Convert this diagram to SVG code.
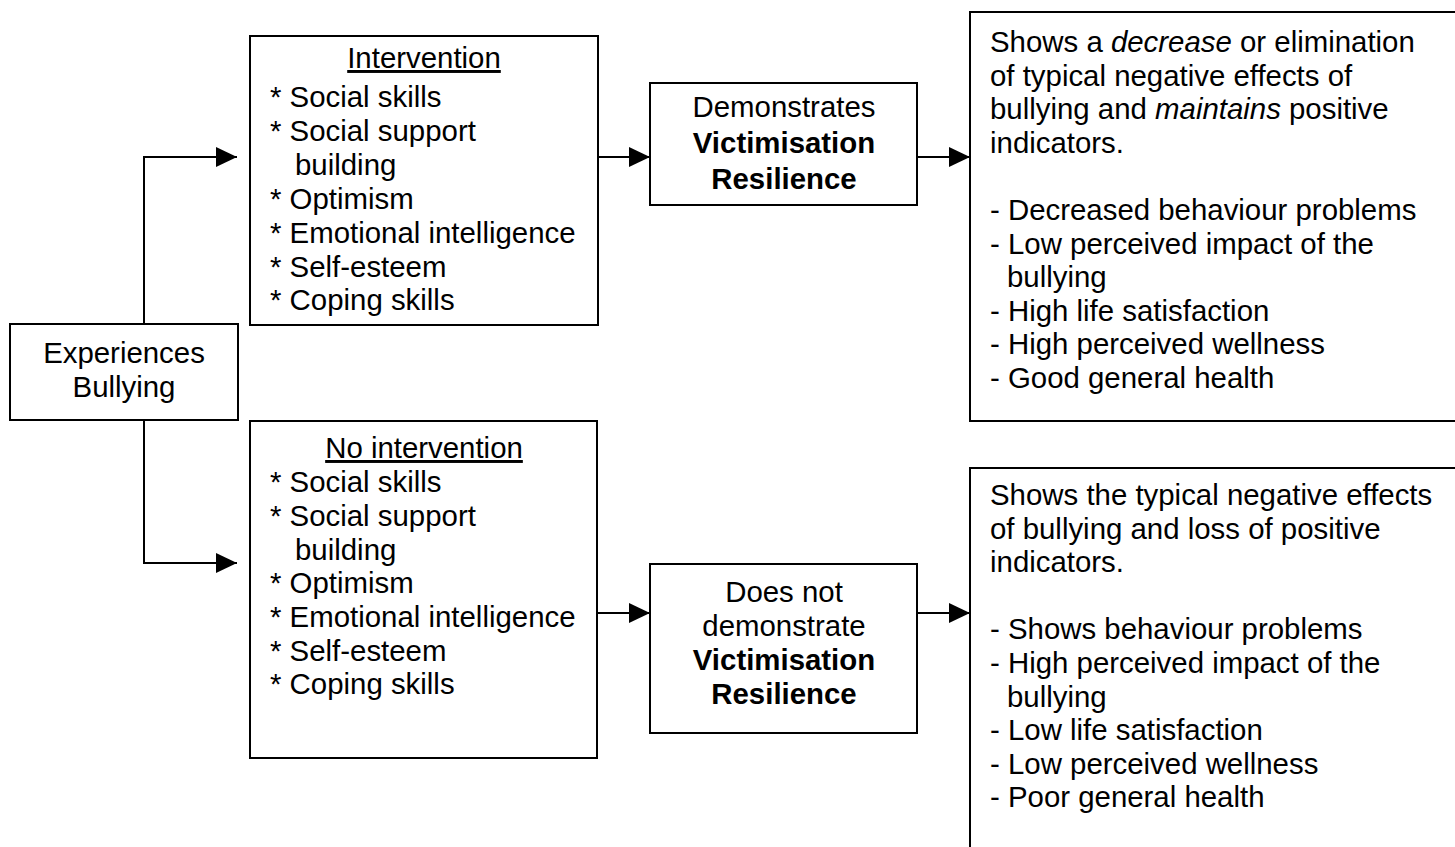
<svg xmlns="http://www.w3.org/2000/svg" width="1455" height="847" viewBox="0 0 1455 847">
<defs>
<style>
.box{fill:#fff;stroke:#000;stroke-width:2}
.t{font-family:"Liberation Sans",Arial,sans-serif;font-size:29.4px;fill:#000}
.c{text-anchor:middle}
.b{font-weight:bold}
.i{font-style:italic}
.u{text-decoration:underline}
.ln{fill:none;stroke:#000;stroke-width:2}
</style>
<marker id="ah" markerUnits="userSpaceOnUse" markerWidth="22" markerHeight="22" refX="21" refY="10" orient="auto">
<path d="M0,0 L21,10 L0,20 z" fill="#000"/>
</marker>
</defs>
<rect width="1455" height="847" fill="#fff"/>
<g id="connectors">
<path class="ln" d="M144,324 V157 H237" marker-end="url(#ah)"/>
<path class="ln" d="M144,420 V563 H237" marker-end="url(#ah)"/>
<path class="ln" d="M598,157 H650" marker-end="url(#ah)"/>
<path class="ln" d="M917,157 H970" marker-end="url(#ah)"/>
<path class="ln" d="M597,613 H650" marker-end="url(#ah)"/>
<path class="ln" d="M917,613 H970" marker-end="url(#ah)"/>
</g>
<g id="experiences">
<rect class="box" x="10" y="324" width="228" height="96"/>
<text class="t c" x="124" y="363">Experiences</text>
<text class="t c" x="124" y="397">Bullying</text>
</g>
<g id="intervention">
<rect class="box" x="250" y="36" width="348" height="289"/>
<text class="t c u" x="424" y="68">Intervention</text>
<text class="t" x="270" y="107">* Social skills</text>
<text class="t" x="270" y="141">* Social support</text>
<text class="t" x="295" y="175">building</text>
<text class="t" x="270" y="209">* Optimism</text>
<text class="t" x="270" y="243">* Emotional intelligence</text>
<text class="t" x="270" y="277">* Self-esteem</text>
<text class="t" x="270" y="310">* Coping skills</text>
</g>
<g id="demonstrates">
<rect class="box" x="650" y="83" width="267" height="122"/>
<text class="t c" x="784" y="117">Demonstrates</text>
<text class="t c b" x="784" y="153">Victimisation</text>
<text class="t c b" x="784" y="189">Resilience</text>
</g>
<g id="positive-outcome">
<rect class="box" x="970" y="12" width="500" height="409"/>
<text class="t" x="990" y="52">Shows a <tspan class="i">decrease</tspan> or elimination</text>
<text class="t" x="990" y="85.6">of typical negative effects of</text>
<text class="t" x="990" y="119.2">bullying and <tspan class="i">maintains</tspan> positive</text>
<text class="t" x="990" y="152.8">indicators.</text>
<text class="t" x="990" y="220">- Decreased behaviour problems</text>
<text class="t" x="990" y="253.6">- Low perceived impact of the</text>
<text class="t" x="1007" y="287.2">bullying</text>
<text class="t" x="990" y="320.8">- High life satisfaction</text>
<text class="t" x="990" y="354.4">- High perceived wellness</text>
<text class="t" x="990" y="388">- Good general health</text>
</g>
<g id="no-intervention">
<rect class="box" x="250" y="421" width="347" height="337"/>
<text class="t c u" x="424" y="458">No intervention</text>
<text class="t" x="270" y="492">* Social skills</text>
<text class="t" x="270" y="526">* Social support</text>
<text class="t" x="295" y="560">building</text>
<text class="t" x="270" y="593">* Optimism</text>
<text class="t" x="270" y="627">* Emotional intelligence</text>
<text class="t" x="270" y="661">* Self-esteem</text>
<text class="t" x="270" y="694">* Coping skills</text>
</g>
<g id="does-not-demonstrate">
<rect class="box" x="650" y="564" width="267" height="169"/>
<text class="t c" x="784" y="602">Does not</text>
<text class="t c" x="784" y="636">demonstrate</text>
<text class="t c b" x="784" y="670">Victimisation</text>
<text class="t c b" x="784" y="704">Resilience</text>
</g>
<g id="negative-outcome">
<rect class="box" x="970" y="468" width="500" height="400"/>
<text class="t" x="990" y="505">Shows the typical negative effects</text>
<text class="t" x="990" y="538.6">of bullying and loss of positive</text>
<text class="t" x="990" y="572.2">indicators.</text>
<text class="t" x="990" y="639.4">- Shows behaviour problems</text>
<text class="t" x="990" y="673">- High perceived impact of the</text>
<text class="t" x="1007" y="706.6">bullying</text>
<text class="t" x="990" y="740.2">- Low life satisfaction</text>
<text class="t" x="990" y="773.8">- Low perceived wellness</text>
<text class="t" x="990" y="807.4">- Poor general health</text>
</g>
</svg>
